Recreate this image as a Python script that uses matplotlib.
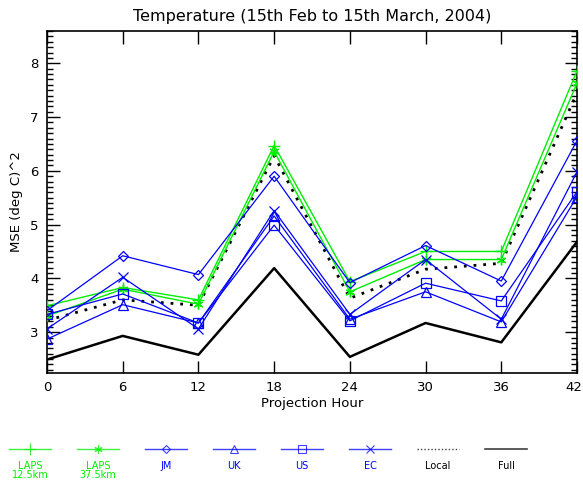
import matplotlib
matplotlib.use("Agg")
import matplotlib.pyplot as plt
from matplotlib.lines import Line2D
from matplotlib.ticker import MultipleLocator

hours = [0, 6, 12, 18, 24, 30, 36, 42]
laps125 = [3.49, 3.83, 3.60, 6.47, 3.94, 4.50, 4.50, 7.86]
laps375 = [3.30, 3.80, 3.52, 6.36, 3.75, 4.35, 4.35, 7.63]
jm = [3.40, 4.42, 4.07, 5.90, 3.92, 4.61, 3.95, 6.56]
uk = [2.87, 3.51, 3.17, 5.16, 3.24, 3.75, 3.19, 5.52]
us = [3.33, 3.71, 3.17, 4.99, 3.21, 3.91, 3.58, 5.61]
ec = [3.06, 4.02, 3.06, 5.26, 3.33, 4.35, 3.24, 5.98]
local = [3.22, 3.60, 3.50, 6.28, 3.63, 4.17, 4.28, 7.45]
full = [2.49, 2.93, 2.58, 4.19, 2.54, 3.17, 2.81, 4.68]

labels = ["LAPS\n12.5km", "LAPS\n37.5km", "JM", "UK", "US", "EC", "Local", "Full"]
GREEN = "#00ee00"
BLUE = "#0000ff"

W, H = 583, 482
fig = plt.figure(figsize=(W / 100, H / 100), dpi=100)
ax = fig.add_axes([47 / W, 1 - 373 / H, (577 - 47) / W, (373 - 31) / H])

ax.plot(hours, full, color="black", lw=1.8, zorder=2)
ax.plot(hours, local, color="black", lw=2.0, ls=(0, (1, 2.5)), zorder=2)
ax.plot(hours, laps125, color=GREEN, lw=1.0, marker="+", ms=8, mew=1.0, zorder=3)
ax.plot(hours, laps375, color=GREEN, lw=1.0, marker=(6, 2, 0), ms=7, mew=1.0, zorder=3)
ax.plot(hours, jm, color=BLUE, lw=0.9, marker="D", ms=5, mfc="none", mew=0.9, zorder=3)
ax.plot(hours, uk, color=BLUE, lw=0.9, marker="^", ms=6.5, mfc="none", mew=0.9, zorder=3)
ax.plot(hours, us, color=BLUE, lw=0.9, marker="s", ms=6.5, mfc="none", mew=0.9, zorder=3)
ax.plot(hours, ec, color=BLUE, lw=0.9, marker="x", ms=7, mew=0.9, zorder=3)

ax.set_xlim(0, 42)
ax.set_ylim(2.24, 8.6)
ax.set_xticks(hours)
ax.yaxis.set_major_locator(MultipleLocator(1))
ax.yaxis.set_minor_locator(MultipleLocator(0.1))
ax.tick_params(axis="both", which="major", direction="in", length=9, width=1,
               top=True, right=True, labelsize=9.5, pad=6)
ax.tick_params(axis="y", which="minor", direction="in", length=4, width=1, right=True)
for s in ax.spines.values():
    s.set_linewidth(1.2)
# keep the last x tick label inside the figure
ax.get_xticklabels()[-1].set_horizontalalignment("center")

ax.set_title("Temperature (15th Feb to 15th March, 2004)", fontsize=11.5, pad=7)
ax.set_xlabel("Projection Hour", fontsize=9.5, labelpad=2)
ax.set_ylabel("MSE (deg C)^2", fontsize=9.5, labelpad=5)

# legend row
handles_spec = [
    dict(color=GREEN, marker="+", ms=8),
    dict(color=GREEN, marker=(6, 2, 0), ms=6),
    dict(color=BLUE, marker="D", ms=4, mfc="none"),
    dict(color=BLUE, marker="^", ms=5.5, mfc="none"),
    dict(color=BLUE, marker="s", ms=6, mfc="none"),
    dict(color=BLUE, marker="x", ms=6),
    dict(color="black", ls=(0, (1, 1.5)), lw=1.0),
    dict(color="black", lw=1.2),
]
text_colors = [GREEN, GREEN, BLUE, BLUE, BLUE, BLUE, "black", "black"]
y_line = 1 - 449 / H
for i, (spec, lab, tc) in enumerate(zip(handles_spec, labels, text_colors)):
    cx = 30 + i * 68
    x0, x1 = (cx - 21) / W, (cx + 21) / W
    lw = spec.pop("lw", 1.0)
    mk = spec.pop("marker", None)
    col = spec.pop("color")
    fig.add_artist(Line2D([x0, x1], [y_line, y_line], color=col, lw=lw, alpha=0.75,
                          transform=fig.transFigure, **{k: v for k, v in spec.items() if k in ("ls",)}))
    if mk is not None:
        fig.add_artist(Line2D([cx / W], [y_line], color=col, marker=mk, ms=spec.get("ms", 6),
                              mfc=spec.get("mfc", col), mew=0.8, alpha=0.75, ls="none",
                              transform=fig.transFigure))
    fig.text(cx / W, 1 - 461 / H, lab, color=tc, fontsize=7, ha="center", va="top",
             linespacing=0.9)

fig.canvas.draw()
lbl = ax.get_xticklabels()[-1]
bb = lbl.get_window_extent()
if bb.x1 > W - 1:
    from matplotlib.transforms import offset_copy
    lbl.set_transform(offset_copy(lbl.get_transform(), fig=fig, x=-(bb.x1 - W + 1), units="dots"))

fig.savefig("out.png", dpi=100)
